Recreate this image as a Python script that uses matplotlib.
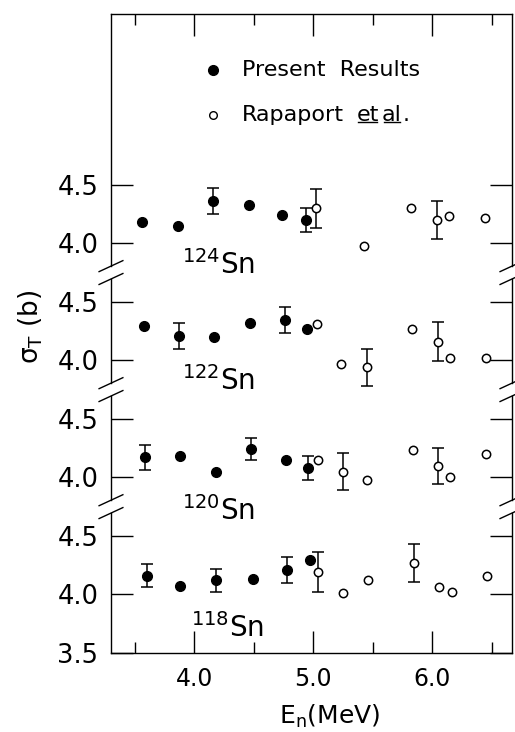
import numpy as np
import matplotlib
matplotlib.use('Agg')
import matplotlib.pyplot as plt

nan = np.nan

# neutron energy (MeV), sigma_T (b), error (b); nan = no error bar shown
# present results (filled) and Rapaport et al. (open) for each tin isotope
e_pres_118 = [3.60, 3.88, 4.18, 4.49, 4.78, 4.97]
s_pres_118 = [4.16, 4.07, 4.12, 4.13, 4.21, 4.29]
d_pres_118 = [0.10, nan, 0.10, nan, 0.11, nan]
e_rap_118 = [5.04, 5.25, 5.46, 5.85, 6.06, 6.17, 6.46]
s_rap_118 = [4.19, 4.01, 4.12, 4.27, 4.06, 4.02, 4.155]
d_rap_118 = [0.17, nan, nan, 0.16, nan, nan, nan]

e_pres_120 = [3.59, 3.88, 4.18, 4.48, 4.77, 4.96]
s_pres_120 = [4.17, 4.18, 4.05, 4.24, 4.15, 4.08]
d_pres_120 = [0.105, nan, nan, 0.095, nan, 0.10]
e_rap_120 = [5.04, 5.25, 5.45, 5.84, 6.05, 6.15, 6.45]
s_rap_120 = [4.15, 4.05, 3.98, 4.23, 4.10, 4.00, 4.20]
d_rap_120 = [nan, 0.16, nan, nan, 0.155, nan, nan]

e_pres_122 = [3.58, 3.87, 4.17, 4.47, 4.76, 4.95]
s_pres_122 = [4.29, 4.21, 4.20, 4.32, 4.345, 4.27]
d_pres_122 = [nan, 0.11, nan, nan, 0.11, nan]
e_rap_122 = [5.03, 5.23, 5.45, 5.83, 6.05, 6.15, 6.45]
s_rap_122 = [4.31, 3.97, 3.94, 4.27, 4.16, 4.02, 4.02]
d_rap_122 = [nan, nan, 0.16, nan, 0.165, nan, nan]

e_pres_124 = [3.56, 3.86, 4.16, 4.46, 4.74, 4.94]
s_pres_124 = [4.18, 4.15, 4.36, 4.33, 4.24, 4.20]
d_pres_124 = [nan, nan, 0.11, nan, nan, 0.105]
e_rap_124 = [5.02, 5.43, 5.82, 6.04, 6.14, 6.44]
s_rap_124 = [4.30, 3.98, 4.30, 4.20, 4.23, 4.22]
d_rap_124 = [0.165, nan, nan, 0.16, nan, nan]

isotopes = ['118', '120', '122', '124']
ytick_vals = [3.5, 4.0, 4.5]  # per panel tick values

panels = [
    (e_pres_118, s_pres_118, d_pres_118, e_rap_118, s_rap_118, d_rap_118),
    (e_pres_120, s_pres_120, d_pres_120, e_rap_120, s_rap_120, d_rap_120),
    (e_pres_122, s_pres_122, d_pres_122, e_rap_122, s_rap_122, d_rap_122),
    (e_pres_124, s_pres_124, d_pres_124, e_rap_124, s_rap_124, d_rap_124),
]
# where the isotope name sits in each panel (x in MeV, y in local barns)
label_pos = [(3.97, 3.64), (3.90, 3.64), (3.90, 3.75), (3.90, 3.735)]

shift = 1.0  # each panel is moved up by 1 b
ymax = 8.96

fig = plt.figure(figsize=(5.15, 7.32), dpi=100)
ax = fig.add_axes([0.2155, 0.108, 0.7786, 0.873])

for k, (ep, sp, dp, er, sr, dr) in enumerate(panels):
    off = k * shift
    ax.errorbar(ep, np.array(sp) + off, yerr=dp, fmt='o', color='black',
                ms=7, elinewidth=1.1, capsize=4.5, capthick=1.1, zorder=3)
    ax.errorbar(er, np.array(sr) + off, yerr=dr, fmt='o', color='black',
                mfc='white', mec='black', mew=1.1, ms=6,
                elinewidth=1.1, capsize=4.5, capthick=1.1, zorder=4)
    lx, ly = label_pos[k]
    ax.text(lx, ly + off, r'$^{%s}$Sn' % isotopes[k], fontsize=20, va='baseline')

ax.set_xlim(3.30, 6.67)
ax.set_ylim(3.5, ymax)

# x axis
ax.set_xticks([4.0, 5.0, 6.0])
ax.set_xticklabels(['4.0', '5.0', '6.0'])
ax.set_xticks([3.5, 4.5, 5.5, 6.5], minor=True)

# y axis, same three values repeated in each panel
yt = []
ytl = []
for k in range(4):
    for v in ytick_vals:
        if k > 0 and v == 3.5:
            continue
        yt.append(v + k * shift)
        ytl.append('%.1f' % v)
ax.set_yticks(yt)
ax.set_yticklabels(ytl)

ax.tick_params(axis='both', which='both', direction='in', top=True, right=True,
               width=1.0)
ax.tick_params(axis='x', which='major', length=16, pad=10, labelsize=17)
ax.tick_params(axis='x', which='minor', length=8)
ax.tick_params(axis='y', which='major', length=16, pad=9, labelsize=18.5)

for sp in ['top', 'bottom']:
    ax.spines[sp].set_linewidth(1.0)
ax.spines['left'].set_visible(False)
ax.spines['right'].set_visible(False)

# broken side spines with double slash marks
gap = 0.11
edges = [3.5] + [4.75 + k * shift for k in range(3)] + [ymax]
for xa in [0, 1]:
    for i in range(len(edges) - 1):
        y0 = edges[i] + (gap / 2 if i > 0 else 0)
        y1 = edges[i + 1] - (gap / 2 if i < len(edges) - 2 else 0)
        ax.plot([xa, xa], [y0, y1], transform=ax.get_yaxis_transform(),
                color='black', lw=1.0, clip_on=False)
xl = ax.get_xlim()
for xe in xl:
    for k in range(3):
        yc = 4.75 + k * shift
        for s in [-gap / 2, gap / 2]:
            ax.plot([xe - 0.10, xe + 0.10], [yc + s - 0.047, yc + s + 0.047],
                    color='black', lw=1.0, clip_on=False)

ax.set_ylabel('σ$_{\\mathrm{T}}$ (b)', fontsize=19)
ax.yaxis.set_label_coords(-0.165, 0.51)
ax.set_xlabel(r'E$_{\mathrm{n}}$(MeV)', fontsize=18)
ax.xaxis.set_label_coords(0.546, -0.078)

# legend drawn by hand
ax.plot([0.254], [0.912], 'o', color='black', ms=7, transform=ax.transAxes)
ax.plot([0.254], [0.842], 'o', mfc='white', mec='black', mew=1.0, ms=5.5,
        transform=ax.transAxes)
ax.text(0.327, 0.912, 'Present  Results', fontsize=16, va='center',
        transform=ax.transAxes)
ax.text(0.327, 0.842, 'Rapaport', fontsize=16, va='center', transform=ax.transAxes)
t_et = ax.text(0.612, 0.842, 'et', fontsize=16, va='center', transform=ax.transAxes)
t_al = ax.text(0.676, 0.842, 'al', fontsize=16, va='center', transform=ax.transAxes)
fig.canvas.draw()
r = fig.canvas.get_renderer()
inv = ax.transAxes.inverted()
for t in [t_et, t_al]:
    bb = t.get_window_extent(renderer=r)
    (x0, y0), (x1, y1) = inv.transform([[bb.x0, bb.y0], [bb.x1, bb.y1]])
    ax.plot([x0 + 0.004, x1 - 0.004], [y0 + 0.004, y0 + 0.004], color='black',
            lw=1.0, transform=ax.transAxes)
bb = t_al.get_window_extent(renderer=r)
xe_al = inv.transform([[bb.x1, bb.y0]])[0][0]
ax.text(xe_al + 0.002, 0.842, '.', fontsize=16, va='center', transform=ax.transAxes)

fig.savefig('out.png', dpi=100)
